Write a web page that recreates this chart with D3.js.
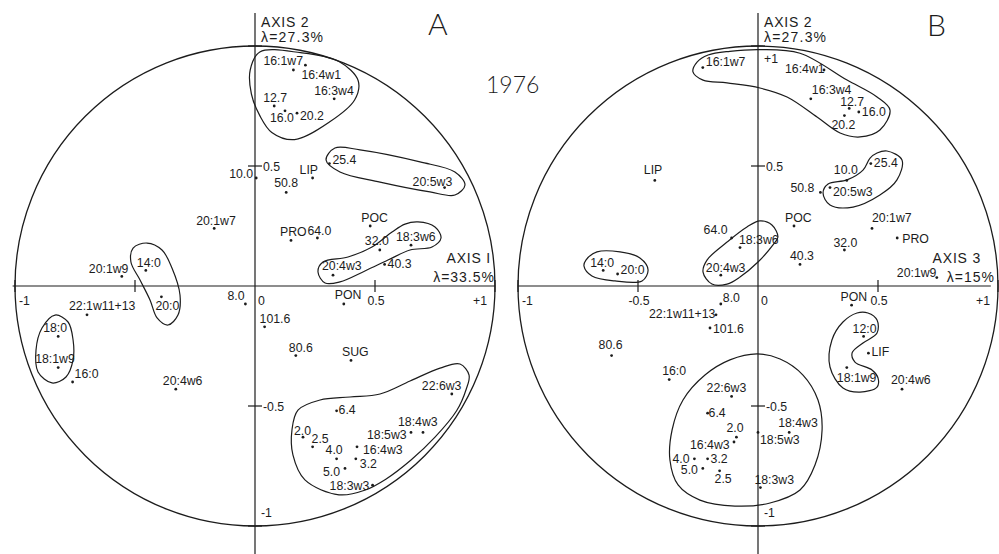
<!DOCTYPE html>
<html>
<head>
<meta charset="utf-8">
<script src="https://cdn.jsdelivr.net/npm/d3@7"></script>
<style>
  html, body { margin: 0; padding: 0; background: #fff; }
  svg { display: block; }
  .lbl { font-family: "Liberation Sans", Arial, sans-serif; font-size: 12.3px; fill: #1c1c1c; }
  .ttl { font-family: "Liberation Sans", Arial, sans-serif; font-size: 14px; fill: #1c1c1c; letter-spacing: 0.8px; }
  .big { font-family: Lato, "Liberation Sans", sans-serif; font-weight: 300; fill: #1c1c1c; }
</style>
</head>
<body>
<svg id="chart" width="999" height="554"></svg>
<script>
// ---- Panel A: axis 1 (horizontal) vs axis 2 (vertical) ----
const aNames = ["16:1w7","16:4w1","16:3w4","12.7","16.0","20.2","25.4","20:5w3","10.0","LIP",
  "50.8","20:1w7","PRO","64.0","POC","32.0","18:3w6","20:4w3","40.3","20:1w9",
  "14:0","20:0","8.0","22:1w11+13","18:0","18:1w9","16:0","20:4w6","PON","101.6",
  "80.6","SUG","22:6w3","6.4","2.0","2.5","4.0","5.0","3.2","16:4w3",
  "18:5w3","18:4w3","18:3w3"];
const aAxis1 = [0.21,0.16,0.33,0.08,0.125,0.175,0.31,0.79,0.005,0.24,
  0.13,-0.17,0.15,0.26,0.48,0.52,0.65,0.325,0.54,-0.555,
  -0.455,-0.39,-0.04,-0.70,-0.82,-0.82,-0.76,-0.33,0.37,0.04,
  0.17,0.40,0.82,0.34,0.20,0.24,0.34,0.375,0.42,0.425,
  0.65,0.70,0.49];
const aAxis2 = [0.92,0.90,0.78,0.75,0.73,0.72,0.51,0.41,0.45,0.45,
  0.39,0.24,0.19,0.20,0.25,0.15,0.17,0.045,0.09,0.04,
  0.065,-0.045,-0.075,-0.12,-0.21,-0.34,-0.40,-0.43,-0.075,-0.17,
  -0.29,-0.31,-0.45,-0.52,-0.63,-0.67,-0.72,-0.76,-0.72,-0.67,
  -0.61,-0.61,-0.83];

// ---- Panel B: axis 3 (horizontal) vs axis 2 (vertical) ----
const bNames = ["16:1w7","16:4w1","16:3w4","12.7","16.0","20.2","LIP","10.0","25.4","50.8",
  "20:5w3","POC","64.0","18:3w6","20:4w3","40.3","32.0","20:1w7","PRO","20:1w9",
  "14:0","20:0","8.0","22:1w11+13","101.6","80.6","16:0","22:6w3","6.4","2.0",
  "16:4w3","4.0","3.2","5.0","2.5","18:4w3","18:5w3","18:3w3","PON","12:0",
  "LIF","18:1w9","20:4w6"];
const bAxis3 = [-0.23,0.275,0.22,0.38,0.42,0.36,-0.43,0.37,0.47,0.26,
  0.30,0.15,-0.11,-0.075,-0.155,0.175,0.36,0.475,0.58,0.745,
  -0.645,-0.585,-0.155,-0.175,-0.20,-0.61,-0.37,-0.11,-0.21,-0.09,
  -0.10,-0.265,-0.21,-0.23,-0.16,0.13,0.0,0.01,0.39,0.44,
  0.46,0.37,0.60];
const bAxis2 = [0.91,0.90,0.78,0.74,0.725,0.71,0.44,0.44,0.51,0.39,
  0.41,0.25,0.20,0.16,0.045,0.09,0.15,0.24,0.20,0.035,
  0.065,0.05,-0.075,-0.12,-0.175,-0.29,-0.39,-0.46,-0.53,-0.63,
  -0.65,-0.72,-0.72,-0.76,-0.77,-0.61,-0.61,-0.84,-0.08,-0.21,
  -0.28,-0.34,-0.43];

// Group outlines (closed curves) in axis units
const aGroups = [
  [[0.02,0.975],[0.19,0.972],[0.35,0.935],[0.43,0.855],[0.415,0.775],[0.31,0.683],[0.165,0.61],[0.07,0.64],[0.02,0.71],[-0.015,0.8],[-0.02,0.9]],
  [[0.296,0.525],[0.333,0.575],[0.4375,0.567],[0.6875,0.517],[0.833,0.475],[0.875,0.421],[0.833,0.379],[0.729,0.392],[0.521,0.433],[0.354,0.475]],
  [[0.679,0.267],[0.75,0.246],[0.775,0.2],[0.7375,0.1625],[0.646,0.15],[0.554,0.108],[0.458,0.0625],[0.354,0.017],[0.292,0.0125],[0.2625,0.058],[0.283,0.1],[0.3875,0.121],[0.4875,0.1625],[0.571,0.225],[0.625,0.258]],
  [[-0.508,0.158],[-0.45,0.179],[-0.3875,0.15],[-0.346,0.075],[-0.3125,-0.0375],[-0.321,-0.121],[-0.3625,-0.1625],[-0.408,-0.133],[-0.4375,-0.058],[-0.479,0.025],[-0.517,0.1]],
  [[-0.833,-0.121],[-0.779,-0.15],[-0.758,-0.225],[-0.758,-0.308],[-0.7875,-0.379],[-0.846,-0.404],[-0.904,-0.358],[-0.9125,-0.267],[-0.8875,-0.175]],
  [[0.179,-0.517],[0.271,-0.475],[0.396,-0.4625],[0.521,-0.45],[0.646,-0.396],[0.771,-0.342],[0.854,-0.325],[0.892,-0.371],[0.88,-0.43],[0.84,-0.52],[0.75,-0.63],[0.65,-0.725],[0.545,-0.805],[0.46,-0.85],[0.35,-0.87],[0.208,-0.808],[0.158,-0.704],[0.154,-0.6]]
];
const bGroups = [
  [[-0.254,0.933],[-0.208,0.9625],[-0.117,0.978],[0.008,0.985],[0.175,0.97],[0.371,0.858],[0.496,0.7875],[0.55,0.733],[0.508,0.65],[0.425,0.621],[0.342,0.6375],[0.246,0.704],[0.121,0.7875],[0.008,0.825],[-0.129,0.846],[-0.229,0.858],[-0.271,0.892]],
  [[0.496,0.554],[0.5375,0.5625],[0.6,0.525],[0.579,0.442],[0.508,0.379],[0.396,0.329],[0.3,0.3375],[0.271,0.3875],[0.292,0.425],[0.371,0.442],[0.4375,0.483],[0.467,0.533]],
  [[0.008,0.271],[0.058,0.254],[0.083,0.204],[0.0625,0.171],[0,0.1],[-0.075,0.0375],[-0.129,0.008],[-0.192,0.008],[-0.229,0.058],[-0.2125,0.108],[-0.129,0.183],[-0.046,0.246]],
  [[-0.725,0.083],[-0.717,0.108],[-0.671,0.142],[-0.575,0.142],[-0.492,0.117],[-0.458,0.067],[-0.483,0.021],[-0.596,0.021],[-0.692,0.042]],
  [[-0.004,-0.283],[0.092,-0.304],[0.1875,-0.371],[0.25,-0.475],[0.267,-0.6],[0.2375,-0.746],[0.175,-0.85],[0.05,-0.904],[-0.096,-0.917],[-0.242,-0.892],[-0.333,-0.829],[-0.367,-0.725],[-0.358,-0.6],[-0.3125,-0.475],[-0.221,-0.371],[-0.117,-0.308]],
  [[0.458,-0.1125],[0.496,-0.142],[0.496,-0.196],[0.4375,-0.2375],[0.392,-0.279],[0.404,-0.317],[0.475,-0.35],[0.5,-0.383],[0.496,-0.421],[0.425,-0.442],[0.354,-0.425],[0.3,-0.3375],[0.308,-0.225],[0.354,-0.15],[0.4125,-0.1125]]
];

const tickValues = [-1, -0.5, 0, 0.5, 1];
const tickText = {"-1": "-1", "-0.5": "-0.5", "0": "0", "0.5": "0.5", "1": "+1"};

// Label placement (pixel offsets of each label from its point)
const aLabelOffset = [[-42,0],[8,9],[-20,-4],[-11,-4],[-15,11],[3,7],[3,0],[-32,-2],[-27,0],[-13,-4],
  [-12,-5],[-18,-3],[-11,-4],[-10,-3],[-9,-4],[-15,-5],[-15,-4],[-11,-5],[3,4],[-33,-3],
  [-9,-3],[-6,13],[-18,-4],[-18,-5],[-15,-4],[-23,-5],[2,-4],[-13,-4],[-9,-5],[-5,-4],
  [-7,-4],[-9,-4],[-30,-4],[2,3],[-9,-2],[-1,-4],[-11,-5],[-22,8],[4,9],[6,7],
  [-44,7],[-25,-6],[-43,5]];
const bLabelOffset = [[3,-2],[-39,3],[1,-5],[-9,-2],[3,4],[-13,13],[-11,-6],[-13,-6],[3,3],[-30,0],
  [3,8],[-9,-4],[-28,-4],[-1,-4],[-15,-3],[-10,-4],[-11,-3],[0,-6],[5,5],[-40,-1],
  [-13,-3],[3,0],[2,-2],[-67,3],[3,5],[-13,-7],[-7,-5],[-25,-4],[1,4],[-10,-5],
  [-44,7],[-22,4],[3,4],[-22,6],[-5,12],[-11,-5],[2,12],[-6,-4],[-11,-4],[-11,-3],
  [3,3],[-10,14],[-11,-5]];

const R = 240;
const svg = d3.select("#chart");
const ink = "#1c1c1c";

const panels = [
  { cx: 255, cy: 286, names: aNames, hx: aAxis1, vy: aAxis2, groups: aGroups, offs: aLabelOffset,
    hTicks: [-1, 0, 0.5, 1], vTicks: [0.5, -0.5, -1], hExtent: [-1.01, 1.0],
    letter: "A", letterX: 428, letterY: 35,
    vTitle: ["AXIS 2", "λ=27.3%"], hTitle: ["AXIS I", "λ=33.5%"], hTitleX: [491, 495] },
  { cx: 758, cy: 286, names: bNames, hx: bAxis3, vy: bAxis2, groups: bGroups, offs: bLabelOffset,
    hTicks: [-1, -0.5, 0, 0.5, 1], vTicks: [1, 0.5, -0.5, -1], hExtent: [-1.0, 0.97],
    letter: "B", letterX: 927, letterY: 36,
    vTitle: ["AXIS 2", "λ=27.3%"], hTitle: ["AXIS 3", "λ=15%"], hTitleX: [981, 995] }
];

panels.forEach(p => {
  const x = d3.scaleLinear().domain([-1, 1]).range([p.cx - R, p.cx + R]);
  const y = d3.scaleLinear().domain([-1, 1]).range([p.cy + R, p.cy - R]);
  const g = svg.append("g");

  // unit circle
  g.append("circle")
    .attr("cx", x(0)).attr("cy", y(0)).attr("r", x(1) - x(0))
    .attr("fill", "none").attr("stroke", ink).attr("stroke-width", 1.3);

  // axes
  g.append("line")
    .attr("x1", x(p.hExtent[0])).attr("x2", x(p.hExtent[1]))
    .attr("y1", y(0)).attr("y2", y(0))
    .attr("stroke", ink).attr("stroke-width", 1.2);
  g.append("line")
    .attr("x1", x(0)).attr("x2", x(0))
    .attr("y1", 13).attr("y2", 554)
    .attr("stroke", ink).attr("stroke-width", 1.2);

  // cross ticks
  tickValues.filter(v => v !== 0).forEach(v => {
    g.append("line").attr("x1", x(v)).attr("x2", x(v))
      .attr("y1", y(0) - 6).attr("y2", y(0) + 6)
      .attr("stroke", ink).attr("stroke-width", 1.2);
    g.append("line").attr("x1", x(0) - 7).attr("x2", x(0) + 7)
      .attr("y1", y(v)).attr("y2", y(v))
      .attr("stroke", ink).attr("stroke-width", 1.2);
  });

  // tick labels along the horizontal axis
  p.hTicks.forEach(v => {
    const t = g.append("text").attr("class", "lbl").attr("y", y(0) + 19).text(tickText[String(v)]);
    if (v === -1) t.attr("x", x(v) + 4).attr("text-anchor", "start");
    else if (v === 0) t.attr("x", x(v) + 3).attr("text-anchor", "start");
    else if (v === 1) t.attr("x", x(v) - 8).attr("text-anchor", "end");
    else t.attr("x", x(v) + 1).attr("text-anchor", "middle");
  });
  // tick labels along the vertical axis
  p.vTicks.forEach(v => {
    let ty = y(v) + 5;
    if (v === 1) ty = y(v) + 17;
    if (v === -1) ty = y(v) - 9;
    g.append("text").attr("class", "lbl")
      .attr("x", x(0) + (Math.abs(v) === 1 ? 6 : 8)).attr("y", ty)
      .text(tickText[String(v)]);
  });

  // group outlines
  const outline = d3.line()
    .x(d => x(d[0])).y(d => y(d[1]))
    .curve(d3.curveCatmullRomClosed.alpha(0.5));
  g.selectAll("path.grp").data(p.groups).join("path")
    .attr("class", "grp")
    .attr("d", outline)
    .attr("fill", "none").attr("stroke", ink).attr("stroke-width", 1.2);

  // points
  const pts = p.names.map((n, i) => ({ name: n, h: p.hx[i], v: p.vy[i], off: p.offs[i] }));
  g.selectAll("circle.pt").data(pts).join("circle")
    .attr("class", "pt")
    .attr("cx", d => x(d.h)).attr("cy", d => y(d.v)).attr("r", 1.4)
    .attr("fill", ink);
  g.selectAll("text.pl").data(pts).join("text")
    .attr("class", "lbl pl")
    .attr("x", d => x(d.h) + d.off[0]).attr("y", d => y(d.v) + d.off[1])
    .text(d => d.name);

  // axis titles
  g.append("text").attr("class", "ttl").attr("x", x(0) + 6).attr("y", 27).text(p.vTitle[0]);
  g.append("text").attr("class", "ttl").attr("x", x(0) + 6).attr("y", 42)
    .style("letter-spacing", "1.2px").text(p.vTitle[1]);
  g.append("text").attr("class", "ttl").attr("text-anchor", "end")
    .attr("x", p.hTitleX[0]).attr("y", 263).text(p.hTitle[0]);
  g.append("text").attr("class", "ttl").attr("text-anchor", "end")
    .attr("x", p.hTitleX[1]).attr("y", 282).style("letter-spacing", "1px").text(p.hTitle[1]);

  // panel letter
  g.append("text").attr("class", "big").attr("x", p.letterX).attr("y", p.letterY)
    .style("font-size", "30px").text(p.letter);
});

// year
svg.append("text").attr("class", "big").attr("x", 486).attr("y", 93)
  .style("font-size", "23px").text("1976");
</script>
</body>
</html>
